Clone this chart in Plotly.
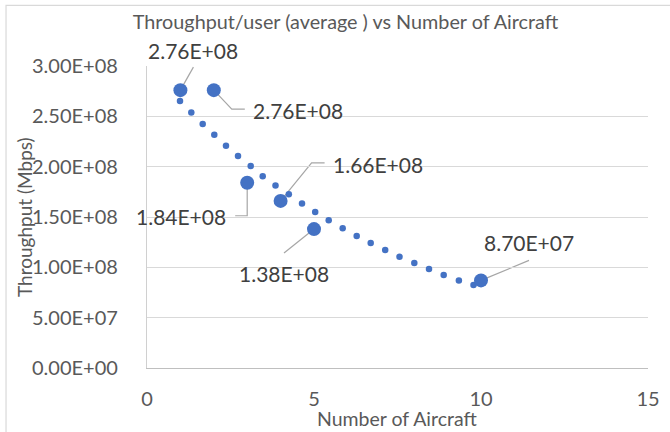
import plotly.graph_objects as go

# ---- data ----
aircraft = [1, 2, 3, 4, 5, 10]
throughput = [2.76e8, 2.76e8, 1.84e8, 1.66e8, 1.38e8, 8.70e7]

# trendline dots
trend_x = [0.988, 1.326, 1.668, 2.015, 2.365, 2.725, 3.105, 3.464, 3.847, 4.246,
           4.641, 5.036, 5.440, 5.859, 6.278, 6.698, 7.132, 7.560, 8.003, 8.443,
           8.883, 9.338, 9.775]
trend_y_millions = [265.3, 253.8, 242.5, 231.6, 220.7, 210.7, 200.6, 190.6, 181.4, 172.5,
                    163.4, 155.0, 146.7, 138.8, 131.2, 124.2, 117.3, 110.6, 104.4, 98.4,
                    92.5, 86.9, 82.4]
trend_y = [v * 1e6 for v in trend_y_millions]

y_tick_vals = [0, 5e7, 1e8, 1.5e8, 2e8, 2.5e8, 3e8]
y_tick_text = [f"{v:.2E}" for v in y_tick_vals]
x_tick_vals = [0, 5, 10, 15]

# label placement (pixel offsets from each point) and leader paths (pixels, y up)
label_shift = [(13, 40), (84, -20), (-66, -34), (97, 36), (-30, -44), (48, 38)]
leader_paths = ["M0,0 L13,23",
                "M0,0 L18,-19 L31,-19",
                "M0,0 L0,-33 L-12,-33",
                "M0,0 L31,38 L44,38",
                "M0,0 L-30,-24",
                "M0,0 L48,20"]

BLUE = "#4472C4"
FONT = "Lato"

fig = go.Figure()
fig.add_trace(go.Scatter(x=trend_x, y=trend_y, mode="markers",
                         marker=dict(color=BLUE, size=6.5, line=dict(width=0)),
                         hoverinfo="skip", showlegend=False))
fig.add_trace(go.Scatter(x=aircraft, y=throughput, mode="markers",
                         marker=dict(color=BLUE, size=14, line=dict(width=0)),
                         showlegend=False))

annotations = []
shapes = []
for xv, yv, (dx, dy), path in zip(aircraft, throughput, label_shift, leader_paths):
    annotations.append(dict(x=xv, y=yv, xref="x", yref="y", text=f"{yv:.2E}",
                            showarrow=False, xshift=dx, yshift=dy,
                            font=dict(family=FONT, size=21, color="#404040")))
    shapes.append(dict(type="path", xref="x", yref="y", xsizemode="pixel", ysizemode="pixel",
                       xanchor=xv, yanchor=yv, path=path,
                       line=dict(color="#A6A6A6", width=1.2), layer="below"))

# axis titles
annotations.append(dict(x=-0.2455, y=0.5, xref="paper", yref="paper", text="Throughput (Mbps)",
                        textangle=-90, showarrow=False, xanchor="center", yanchor="middle",
                        font=dict(family=FONT, size=19, color="#595959")))
annotations.append(dict(x=0.5, y=-0.166, xref="paper", yref="paper", text="Number of Aircraft",
                        showarrow=False, xanchor="center", yanchor="middle",
                        font=dict(family=FONT, size=19.5, color="#595959")))

# chart-area border (left and top visible)
shapes.append(dict(type="rect", xref="paper", yref="paper", x0=-0.2814, x1=1.3,
                   y0=-0.4, y1=1.2006, line=dict(color="#D9D9D9", width=1.2), layer="below"))

fig.update_layout(
    template="none",
    width=670, height=432,
    margin=dict(l=147, r=22, t=66, b=64, autoexpand=False),
    paper_bgcolor="white", plot_bgcolor="white",
    showlegend=False,
    title=dict(text="Throughput/user (average ) vs Number of Aircraft",
               x=0.5157, xref="container", xanchor="center",
               y=1 - 22 / 432, yref="container", yanchor="middle",
               font=dict(family=FONT, size=19.8, color="#595959")),
    xaxis=dict(range=[0, 15], tickvals=x_tick_vals, showgrid=False, zeroline=False,
               automargin=False,
               showline=True, linecolor="#BFBFBF", linewidth=1.2, ticks="",
               ticklabelstandoff=13,
               tickfont=dict(family=FONT, size=20, color="#595959")),
    yaxis=dict(range=[0, 3e8], tickvals=y_tick_vals, ticktext=y_tick_text,
               automargin=False,
               showgrid=True, gridcolor="#D9D9D9", gridwidth=1.2, zeroline=False,
               showline=True, linecolor="#D0D0D0", linewidth=1.2, ticks="",
               ticklabelstandoff=24,
               tickfont=dict(family=FONT, size=20, color="#595959")),
    annotations=annotations, shapes=shapes,
    font=dict(family=FONT),
)

fig.write_html("out.html", config={"displayModeBar": False},
               post_script="document.body.style.margin='0';document.body.style.overflow='hidden';")
